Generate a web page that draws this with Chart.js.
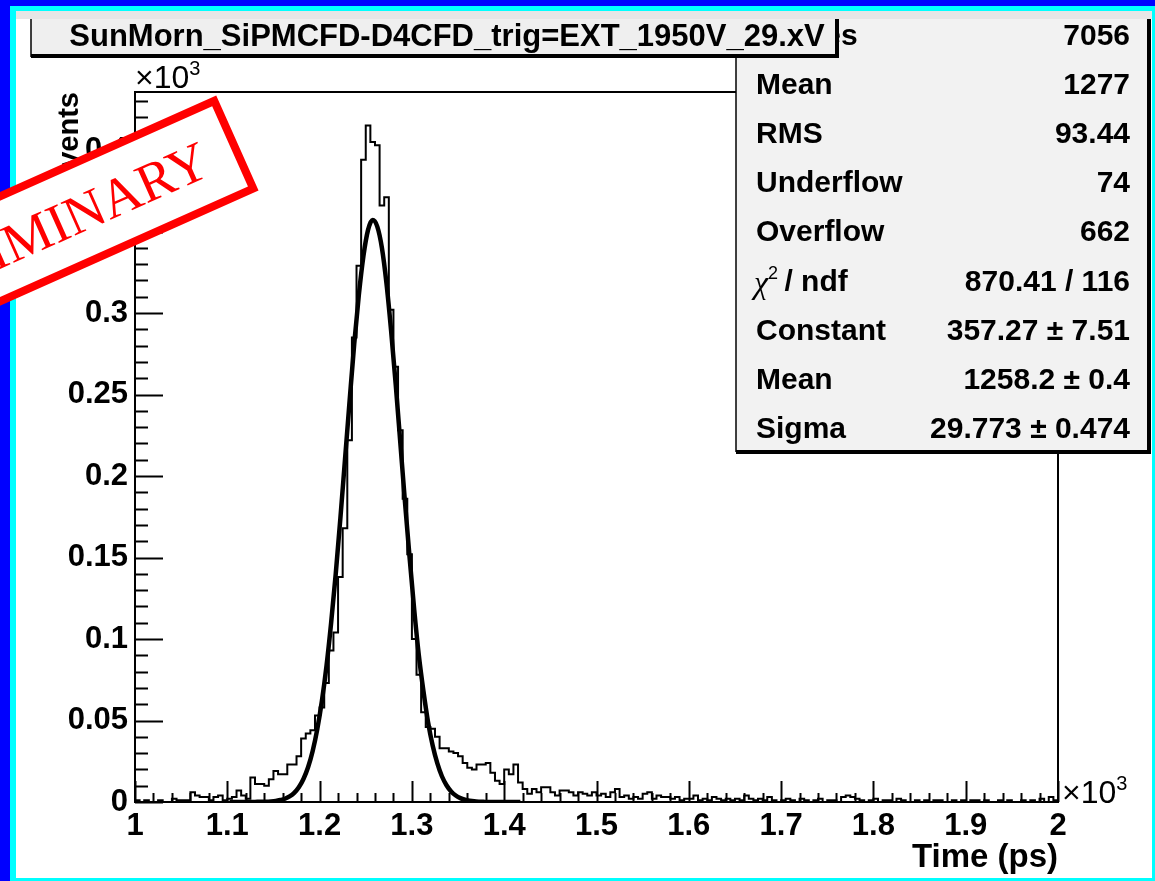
<!DOCTYPE html>
<html>
<head>
<meta charset="utf-8">
<title>SunMorn_SiPMCFD-D4CFD_trig=EXT_1950V_29.xV</title>
<script src="https://cdn.jsdelivr.net/npm/chart.js@4.4.1/dist/chart.umd.min.js"></script>
<style>
  html, body { margin: 0; padding: 0; background: #fff; }
  canvas { display: block; }
</style>
</head>
<body>
<canvas id="hist" width="1155" height="881"></canvas>
<script>
// Histogram: 200 bins of 5 ps between 1000 and 2000 ps
const binLow = 1000;
const binWidth = 5;
const counts = [
  1, 0, 1, 0, 0, 1, 0, 0, 2, 1,
  1, 1, 6, 4, 3, 3, 1, 3, 4, 1,
  2, 3, 7, 4, 2, 15, 11, 11, 10, 14,
  19, 17, 17, 23, 23, 28, 39, 42, 44, 53,
  58, 73, 93, 104, 138, 168, 222, 285, 329, 394,
  415, 405, 403, 366, 371, 302, 267, 228, 186, 152,
  100, 78, 55, 46, 45, 40, 33, 33, 31, 30,
  28, 24, 21, 20, 23, 23, 24, 18, 13, 11,
  20, 17, 23, 12, 8, 5, 8, 6, 9, 9,
  6, 4, 7, 7, 6, 4, 6, 5, 4, 6,
  4, 5, 3, 6, 8, 3, 4, 2, 3, 2,
  5, 6, 2, 4, 3, 3, 2, 3, 1, 2,
  2, 4, 1, 2, 1, 3, 2, 1, 2, 1,
  2, 1, 4, 2, 1, 2, 1, 3, 1, 0,
  1, 2, 1, 0, 2, 1, 0, 1, 2, 0,
  1, 1, 0, 3, 4, 3, 2, 1, 0, 1,
  2, 0, 1, 1, 0, 2, 1, 0, 0, 1,
  0, 1, 0, 1, 1, 0, 0, 1, 0, 1,
  0, 1, 1, 0, 1, 0, 0, 1, 0, 1,
  0, 0, 1, 0, 1, 0, 2, 0, 3, 1
];

// Gaussian fit curve, sampled every 5 ps from 1102.5 ps
const fitStart = 1102.5;
const fitStep = 5;
const fitValues = [
  0, 0, 0, 0, 0, 0, 0.1, 0.1, 0.2, 0.3,
  0.6, 1.2, 2.0, 3.4, 5.6, 9.0, 14.1, 21.3, 31.3, 44.7,
  62.0, 83.6, 110, 140, 174, 210, 246, 281, 311, 335,
  351, 357, 353, 340, 318, 289, 256, 220, 184, 150,
  118, 90, 68, 49, 34.6, 23.8, 15.8, 10.3, 6.5, 4.0,
  2.4, 1.4, 0.8, 0.4, 0.2, 0.1, 0, 0, 0, 0,
  0, 0, 0, 0
];

const xTicks = [1000, 1100, 1200, 1300, 1400, 1500, 1600, 1700, 1800, 1900, 2000];
const xTickLabels = ['1', '1.1', '1.2', '1.3', '1.4', '1.5', '1.6', '1.7', '1.8', '1.9', '2'];
const yTicks = [0, 50, 100, 150, 200, 250, 300, 350, 400];
const yTickLabels = ['0', '0.05', '0.1', '0.15', '0.2', '0.25', '0.3', '0.35', '0.4'];
const yMax = 435.6;

const titleText = 'SunMorn_SiPMCFD-D4CFD_trig=EXT_1950V_29.xV';
const statLabels = ['Entries', 'Mean', 'RMS', 'Underflow', 'Overflow', 'CHI', 'Constant', 'Mean', 'Sigma'];
const statValues = ['7056', '1277', '93.44', '74', '662', '870.41 / 116', '357.27 \u00b1 7.51', '1258.2 \u00b1 0.4', '29.773 \u00b1 0.474'];

const FONT = '"Liberation Sans", Arial, sans-serif';

const histPoints = counts.map((c, i) => ({ x: binLow + i * binWidth, y: c }));
histPoints.push({ x: binLow + counts.length * binWidth, y: counts[counts.length - 1] });
const fitPoints = fitValues.map((v, i) => ({ x: fitStart + i * fitStep, y: v }));

function line(ctx, x1, y1, x2, y2) {
    ctx.beginPath();
    ctx.moveTo(x1, y1);
    ctx.lineTo(x2, y2);
    ctx.stroke();
}

const rootDecor = {
    id: 'rootDecor',
    beforeDraw(chart) {
        const ctx = chart.ctx;
        const W = chart.width, H = chart.height;
        ctx.save();
        // window borders
        ctx.fillStyle = '#0000ff';
        ctx.fillRect(0, 0, W, H);
        ctx.fillStyle = '#00ffff';
        ctx.fillRect(10, 6, W - 10, H - 6);
        ctx.fillStyle = '#ffffff';
        ctx.fillRect(16, 11, W - 19, H - 14);
        ctx.fillStyle = '#e6e6e6';
        ctx.fillRect(16, 11, W - 19, 8);
        ctx.restore();
    },
    afterDatasetsDraw(chart) {
        const ctx = chart.ctx;
        const a = chart.chartArea;
        const xs = chart.scales.x, ys = chart.scales.y;
        ctx.save();
        ctx.strokeStyle = '#000';
        ctx.lineWidth = 2;
        ctx.strokeRect(a.left, a.top, a.right - a.left, a.bottom - a.top);
        // y ticks, pointing into the frame
        for (let v = 0; v <= yMax; v += 10) {
            const y = Math.round(ys.getPixelForValue(v)) + 0.5;
            const len = v % 50 === 0 ? 28 : 13;
            line(ctx, a.left, y, a.left + len, y);
        }
        // x ticks
        for (let v = 1000; v <= 2000; v += 20) {
            const x = Math.round(xs.getPixelForValue(v)) + 0.5;
            const len = v % 100 === 0 ? 21 : 9;
            line(ctx, x, a.bottom, x, a.bottom - len);
        }
        ctx.restore();
    },
    afterDraw(chart) {
        const ctx = chart.ctx;
        const a = chart.chartArea;
        ctx.save();
        ctx.fillStyle = '#000';
        ctx.textBaseline = 'alphabetic';

        // x10^3 markers
        ctx.font = '32px ' + FONT;
        ctx.textAlign = 'left';
        ctx.fillText('\u00d710', a.left, 88);
        let w = ctx.measureText('\u00d710').width;
        ctx.font = '20px ' + FONT;
        ctx.fillText('3', a.left + w, 75);
        ctx.font = '32px ' + FONT;
        ctx.fillText('\u00d710', a.right + 4, 803);
        w = ctx.measureText('\u00d710').width;
        ctx.font = '20px ' + FONT;
        ctx.fillText('3', a.right + 4 + w, 790);

        // axis titles
        ctx.font = 'bold 33px ' + FONT;
        ctx.textAlign = 'right';
        ctx.fillText('Time (ps)', a.right, 867);
        ctx.save();
        ctx.font = 'bold 29px ' + FONT;
        ctx.translate(78, a.top);
        ctx.rotate(-Math.PI / 2);
        ctx.fillText('Events', 0, 0);
        ctx.restore();

        // stats box
        const sx = 736, sy = 19, sr = 1151, sb = 452;
        ctx.fillStyle = '#f2f2f2';
        ctx.fillRect(sx, sy, sr - sx, sb - sy);
        ctx.strokeStyle = '#000';
        ctx.lineWidth = 1.5;
        line(ctx, sx, sy, sx, sb);
        ctx.lineWidth = 4;
        line(ctx, sx, sb, sr, sb);
        line(ctx, sr - 2, sy, sr - 2, sb);
        ctx.fillStyle = '#000';
        ctx.font = 'bold 30px ' + FONT;
        statLabels.forEach((lab, k) => {
            const by = 45 + 49.1 * k;
            ctx.textAlign = 'left';
            if (lab === 'CHI') {
                ctx.font = 'italic 32px "Liberation Serif", serif';
                ctx.fillText('\u03c7', 754, by + 2);
                const cw = ctx.measureText('\u03c7').width;
                ctx.font = '18px ' + FONT;
                ctx.fillText('2', 754 + cw, by - 12);
                ctx.font = 'bold 30px ' + FONT;
                ctx.fillText(' / ndf', 754 + cw + 8, by);
            } else {
                ctx.fillText(lab, 756, by);
            }
            ctx.textAlign = 'right';
            ctx.fillText(statValues[k], 1130, by);
        });

        // title box
        const tx = 31, ty = 19, tr = 839, tb = 57;
        ctx.fillStyle = '#efefef';
        ctx.fillRect(tx, ty, tr - tx, tb - ty);
        ctx.lineWidth = 1.5;
        line(ctx, tx, ty, tx, tb);
        ctx.lineWidth = 4;
        line(ctx, tx, tb - 1, tr, tb - 1);
        line(ctx, tr - 2, ty, tr - 2, tb);
        ctx.fillStyle = '#000';
        ctx.font = 'bold 31px ' + FONT;
        ctx.textAlign = 'center';
        ctx.fillText(titleText, 447, 46);

        // PRELIMINARY stamp
        ctx.translate(35.5, 233);
        ctx.rotate(-24 * Math.PI / 180);
        ctx.fillStyle = '#fff';
        ctx.fillRect(-217, -48, 434, 96);
        ctx.strokeStyle = '#ff0000';
        ctx.lineWidth = 8;
        ctx.strokeRect(-217, -48, 434, 96);
        ctx.fillStyle = '#ff0000';
        ctx.font = '55px "Liberation Serif", serif';
        ctx.textAlign = 'center';
        ctx.textBaseline = 'middle';
        ctx.fillText('PRELIMINARY', 0, 4);
        ctx.restore();
    }
};

const tickFont = { family: FONT, size: 31, weight: 'bold' };

new Chart(document.getElementById('hist').getContext('2d'), {
    type: 'line',
    data: {
        datasets: [
            {
                label: 'fit',
                data: fitPoints,
                borderColor: '#000',
                borderWidth: 4.5,
                pointRadius: 0,
                fill: false,
                tension: 0.4,
                cubicInterpolationMode: 'monotone',
                order: 0
            },
            {
                label: 'hist',
                data: histPoints,
                borderColor: '#000',
                borderWidth: 2,
                pointRadius: 0,
                fill: false,
                stepped: 'before',
                order: 1
            }
        ]
    },
    options: {
        responsive: false,
        animation: false,
        events: [],
        layout: { padding: { left: 0, top: 92, right: 97, bottom: 0 } },
        plugins: {
            legend: { display: false },
            tooltip: { enabled: false }
        },
        scales: {
            x: {
                type: 'linear',
                min: 1000,
                max: 2000,
                afterBuildTicks: s => { s.ticks = xTicks.map(v => ({ value: v })); },
                afterFit: s => { s.height = 79; },
                grid: { display: false, drawTicks: false },
                border: { display: false },
                ticks: {
                    autoSkip: false,
                    maxRotation: 0,
                    padding: 6,
                    color: '#000',
                    font: tickFont,
                    callback: v => xTickLabels[xTicks.indexOf(v)]
                }
            },
            y: {
                type: 'linear',
                min: 0,
                max: yMax,
                afterBuildTicks: s => { s.ticks = yTicks.map(v => ({ value: v })); },
                afterFit: s => { s.width = 135; },
                grid: { display: false, drawTicks: false },
                border: { display: false },
                ticks: {
                    autoSkip: false,
                    padding: 7,
                    color: '#000',
                    font: tickFont,
                    callback: v => yTickLabels[yTicks.indexOf(v)]
                }
            }
        }
    },
    plugins: [rootDecor]
});
</script>
</body>
</html>
